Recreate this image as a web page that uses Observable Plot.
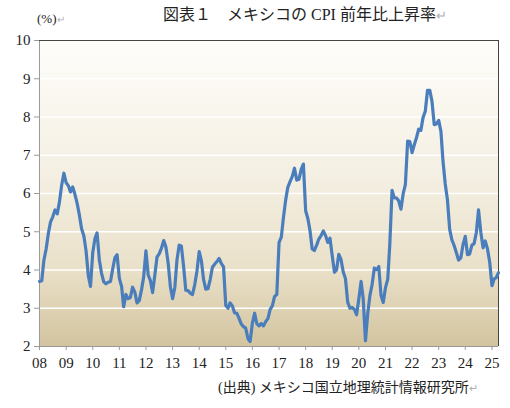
<!DOCTYPE html>
<html><head><meta charset="utf-8">
<script src="https://cdn.jsdelivr.net/npm/d3@7"></script>
<script src="https://cdn.jsdelivr.net/npm/@observablehq/plot@0.6"></script>
<style>
body{margin:0;background:#fff;}
#wrap{position:relative;width:510px;height:408px;overflow:hidden;}
.t{position:absolute;white-space:nowrap;font-family:"Liberation Serif","Noto Sans CJK JP",serif;color:#222;line-height:1;}
.rm{color:#b0b0b0;font-size:0.8em}
</style></head><body>
<div id="wrap">
 <div class="t" style="left:163px;top:7px;font-size:16px;">図表１　メキシコの CPI 前年比上昇率<span class="rm">↵</span></div>
 <div class="t" style="left:37px;top:12px;font-size:13px">(%)<span class="rm">↵</span></div>
 <div class="t" style="left:218px;top:381px;font-size:14px">(出典) メキシコ国立地理統計情報研究所<span class="rm">↵</span></div>
</div>
<script>
// Monthly year-on-year CPI change (%), Jan..Dec
const y2008 = [3.70, 3.72, 4.25, 4.55, 4.95, 5.26, 5.39, 5.57, 5.47, 5.78, 6.23, 6.53];
const y2009 = [6.28, 6.20, 6.04, 6.17, 5.98, 5.74, 5.44, 5.08, 4.89, 4.50, 3.86, 3.57];
const y2010 = [4.46, 4.83, 4.97, 4.27, 3.92, 3.69, 3.64, 3.68, 3.70, 4.02, 4.32, 4.40];
const y2011 = [3.78, 3.57, 3.04, 3.36, 3.25, 3.28, 3.55, 3.42, 3.14, 3.20, 3.48, 3.82];
const y2012 = [4.50, 3.87, 3.73, 3.41, 3.85, 4.34, 4.42, 4.57, 4.77, 4.60, 4.18, 3.57];
const y2013 = [3.25, 3.55, 4.25, 4.65, 4.63, 4.09, 3.47, 3.46, 3.39, 3.36, 3.62, 3.97];
const y2014 = [4.48, 4.23, 3.76, 3.50, 3.51, 3.75, 4.07, 4.15, 4.22, 4.30, 4.17, 4.08];
const y2015 = [3.07, 3.00, 3.14, 3.06, 2.88, 2.87, 2.74, 2.59, 2.52, 2.48, 2.21, 2.13];
const y2016 = [2.61, 2.87, 2.60, 2.54, 2.60, 2.54, 2.65, 2.73, 2.97, 3.06, 3.31, 3.36];
const y2017 = [4.72, 4.86, 5.35, 5.82, 6.16, 6.31, 6.44, 6.66, 6.35, 6.37, 6.63, 6.77];
const y2018 = [5.55, 5.34, 5.04, 4.55, 4.51, 4.65, 4.81, 4.90, 5.02, 4.90, 4.72, 4.83];
const y2019 = [4.37, 3.94, 4.00, 4.41, 4.28, 3.95, 3.78, 3.16, 3.00, 3.02, 2.97, 2.83];
const y2020 = [3.24, 3.70, 3.25, 2.15, 2.84, 3.33, 3.62, 4.05, 4.01, 4.09, 3.33, 3.15];
const y2021 = [3.54, 3.76, 4.67, 6.08, 5.89, 5.88, 5.81, 5.59, 6.00, 6.24, 7.37, 7.36];
const y2022 = [7.07, 7.28, 7.45, 7.68, 7.65, 7.99, 8.15, 8.70, 8.70, 8.41, 7.80, 7.82];
const y2023 = [7.91, 7.62, 6.85, 6.25, 5.84, 5.06, 4.79, 4.64, 4.45, 4.26, 4.32, 4.66];
const y2024 = [4.88, 4.40, 4.42, 4.65, 4.69, 4.98, 5.57, 4.99, 4.58, 4.76, 4.55, 4.21];
const y2025 = [3.59, 3.77, 3.80, 3.93];

const years = [2008,2009,2010,2011,2012,2013,2014,2015,2016,2017,2018,2019,2020,2021,2022,2023,2024,2025];
const series = [y2008,y2009,y2010,y2011,y2012,y2013,y2014,y2015,y2016,y2017,y2018,y2019,y2020,y2021,y2022,y2023,y2024,y2025];
const xTickLabels = ["08","09","10","11","12","13","14","15","16","17","18","19","20","21","22","23","24","25"];
const yTicks = [2,3,4,5,6,7,8,9,10];
const yGrid = [3,4,5,6,7,8,9];

const data = [];
series.forEach((vals, i) => vals.forEach((v, m) => data.push({date: new Date(Date.UTC(years[i], m, 1)), value: v})));
const xStart = data[0].date;
const xEnd = data[data.length - 1].date;
const xTicks = years.map(y => new Date(Date.UTC(y, 0, 1)));
const labelOf = new Map(xTicks.map((d, i) => [+d, xTickLabels[i]]));

const gradient = () => {
  const defs = d3.create("svg:defs");
  const g = defs.append("linearGradient").attr("id", "bgGrad").attr("x1", 0).attr("y1", 0).attr("x2", 0).attr("y2", 1);
  [["0%","#fefdfa"],["45%","#f4efe2"],["75%","#e9e0c8"],["100%","#d3c49f"]].forEach(([o,c]) =>
    g.append("stop").attr("offset", o).attr("stop-color", c));
  return defs.node();
};

const chart = Plot.plot({
  width: 510,
  height: 408,
  marginLeft: 39,
  marginRight: 12,
  marginTop: 40,
  marginBottom: 62,
  style: {fontFamily: '"Liberation Serif", serif', fontSize: "15px", background: "transparent", color: "#222"},
  x: {type: "utc", domain: [xStart, xEnd]},
  y: {domain: [2, 10]},
  marks: [
    gradient,
    Plot.frame({fill: "url(#bgGrad)", stroke: null}),
    Plot.gridY(yGrid, {stroke: "#ffffff", strokeOpacity: 1, strokeWidth: 1.5}),
    Plot.ruleY([2], {stroke: "#9a9a9a"}),
    Plot.ruleX([xStart], {stroke: "#9a9a9a"}),
    Plot.ruleY([10], {stroke: "#444"}),
    Plot.ruleX([xEnd], {stroke: "#444"}),
    Plot.axisY({ticks: yTicks, tickSize: 5, tickPadding: 4, stroke: "#9a9a9a", fill: "#222", label: null, tickFormat: d => String(d)}),
    Plot.axisX({ticks: xTicks, tickSize: 4, tickPadding: 7, stroke: "#9a9a9a", fill: "#222", label: null, tickFormat: d => labelOf.get(+d)}),
    Plot.line(data, {x: "date", y: "value", stroke: "#4a7dbc", strokeWidth: 3.2, strokeLinejoin: "round", strokeLinecap: "round"})
  ]
});
document.getElementById("wrap").prepend(chart);
</script>
</body></html>
